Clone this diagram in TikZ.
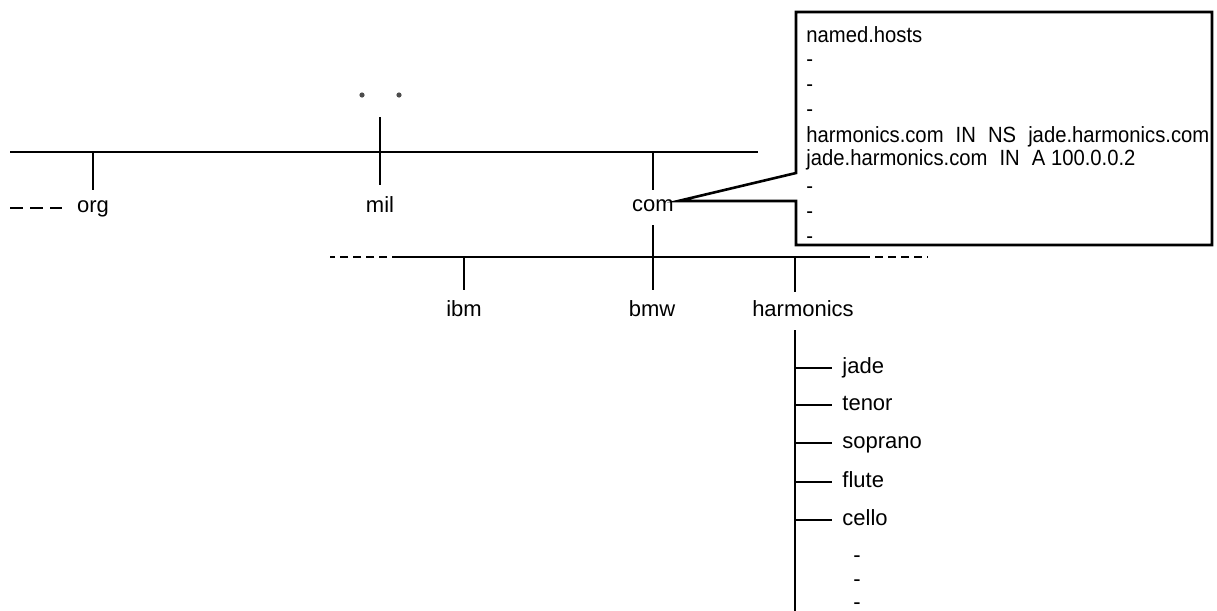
\documentclass[tikz,border=0pt]{standalone}
\usepackage{fontspec}
\setmainfont{Liberation Sans}
\newfontfamily\filefont[FakeStretch=0.92]{Liberation Sans}
\usetikzlibrary{calc}

\begin{document}
\begin{tikzpicture}[x=0.5pt,y=-0.5pt,
  wire/.style={line width=1.1pt},
  frame/.style={line width=1.3pt},
  lbl/.style={anchor=base,inner sep=0pt,font=\fontsize{11}{13}\selectfont},
  txt/.style={anchor=base west,inner sep=0pt,font=\fontsize{11}{13}\selectfont},
  rec/.style={txt,font=\filefont\fontsize{11}{13}\selectfont}]
\useasboundingbox (0,0) rectangle (1217,611);

% top level domains
\coordinate (rootw) at (10,152);
\coordinate (roote) at (758,152);
\draw[wire] (rootw) -- (roote);

\node[lbl] (org) at (93,212) {org};
\node[lbl] (mil) at (380,212) {mil};
\node[lbl] (com) at (653,211) {com};

\draw[wire] (org |- rootw) -- ($ (org |- rootw) + (0,38) $);
\coordinate (more) at (10,208);
\draw[wire,dash pattern=on 6.5pt off 3.5pt] (more) -- ($ (more) + (52,0) $);

\draw[wire] ($ (mil |- rootw) + (0,-35) $) -- ($ (mil |- rootw) + (0,33) $);
\fill[black!70] ($ (mil |- rootw) + (-18,-57) $) circle (1.3pt);
\fill[black!70] ($ (mil |- rootw) + (19,-57) $) circle (1.3pt);

\draw[wire] (com |- rootw) -- ($ (com |- rootw) + (0,38) $);

% second level under com
\coordinate (subw) at (400,257);
\coordinate (sube) at (862,257);
\draw[wire] (subw) -- (sube);
\draw[wire,dash pattern=on 4pt off 2.5pt] (subw) -- ($ (subw) + (-70,0) $);
\draw[wire,dash pattern=on 4pt off 2.5pt] (sube) -- ($ (sube) + (66,0) $);

\node[lbl] (ibm) at (464,316) {ibm};
\node[lbl] (bmw) at (652,316) {bmw};
\node[lbl] (harmonics) at (803,316) {harmonics};

\draw[wire] ($ (com.base) + (0,14) $) -- ($ (com.base |- subw) + (0,33) $);
\draw[wire] (ibm |- subw) -- ($ (ibm |- subw) + (0,33) $);
\draw[wire] ($ (harmonics |- subw) + (-8,0) $) -- ($ (harmonics |- subw) + (-8,35) $);

% hosts of harmonics.com
\coordinate (htop) at (795,330);
\coordinate (hbot) at (795,611);
\draw[wire] (htop) -- (hbot);

\foreach \y/\host in {368/jade,405/tenor,443/soprano,482/flute,520/cello}{
  \node[txt] (\host) at (842,\y+5) {\host};
  \draw[wire] (htop |- \host.base west) ++(0,-5) -- ($ (\host.base west) + (-10,-5) $);
}
\foreach \y [count=\i] in {562,586,609}
  \node[lbl] (etc\i) at (857,\y) {-};

% named.hosts file of com
\coordinate (tip) at ($ (com.base east) + (4,-10) $);
\coordinate (boxnw) at (796,12);
\coordinate (boxse) at (1212,245);
\coordinate (callup) at (796,173);
\coordinate (calllo) at (796,201);
\draw[frame,line join=miter] (tip) -- (callup) -- (boxnw) -| (boxse) -| (calllo) -- cycle;

\node[rec] (file) at (806,42) {named.hosts};
\foreach \y [count=\i] in {66,91,116,193,218,243}
  \node[rec] (skip\i) at (806,\y) {-};
\node[rec] (ns) at (806,142) {harmonics.com\hspace{0.55em}IN\hspace{0.55em}NS\hspace{0.55em}jade.harmonics.com};
\node[rec] (addr) at (806,165) {jade.harmonics.com\hspace{0.55em}IN\hspace{0.55em}A 100.0.0.2};

\end{tikzpicture}
\end{document}
